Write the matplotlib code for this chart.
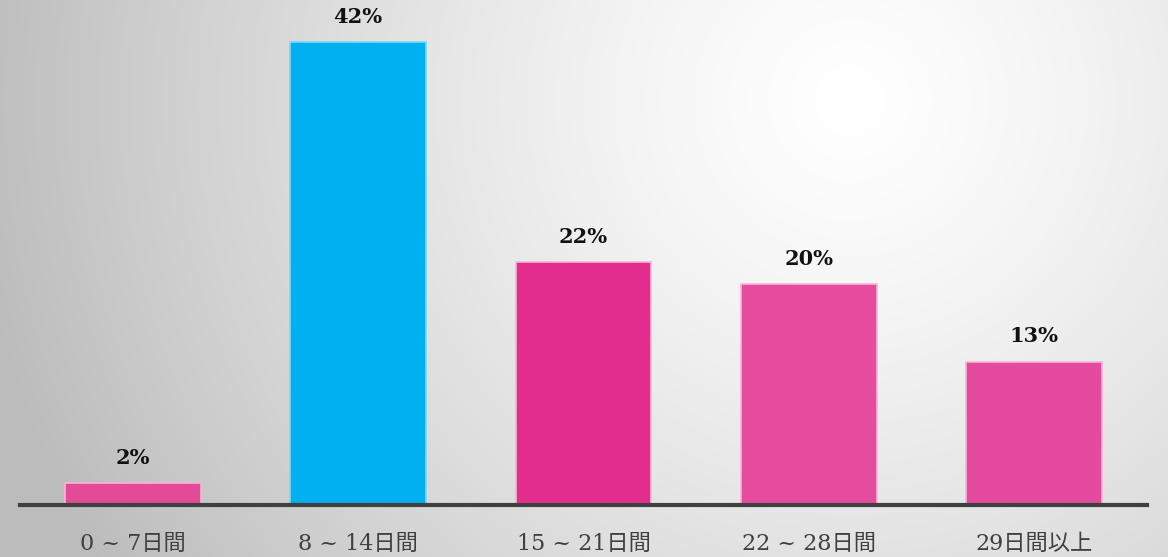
import numpy as np
import matplotlib
matplotlib.use("Agg")
import matplotlib.pyplot as plt

categories = ["0 ~ 7日間", "8 ~ 14日間", "15 ~ 21日間", "22 ~ 28日間", "29日間以上"]
values = [2, 42, 22, 20, 13]
labels = ["2%", "42%", "22%", "20%", "13%"]
colors = ["#E34A98", "#00B0F0", "#E22D8E", "#E64C9E", "#E44B9E"]

fig = plt.figure(figsize=(11.68, 5.57), dpi=100)

# radial gradient background
bg = fig.add_axes([0, 0, 1, 1], zorder=0)
W, H = 1168, 557
yy, xx = np.mgrid[0:H, 0:W]
cx, cy = 850, 100
d = np.sqrt((xx - cx) ** 2 + (yy - cy) ** 2)
t = np.clip(d / 880, 0, 1)
gray = 1.0 - 0.26 * t ** 1.3
img = np.dstack([gray, gray, gray])
bg.imshow(img, extent=[0, W, H, 0], aspect='auto', interpolation='bilinear')
bg.set_axis_off()

ax = fig.add_axes([20 / W, (H - 505) / H, (1147 - 20) / W, 505 / H], zorder=1)
ax.patch.set_alpha(0)
x = np.arange(len(values))
bars = ax.bar(x, values, width=0.603, color=colors, edgecolor="#F4B6D6", linewidth=1.2)
bars[1].set_edgecolor("#7FD6F7")
ax.set_xlim(-0.5, 4.5)
ax.set_ylim(0, 45.8)
for s in ["top", "right", "left"]:
    ax.spines[s].set_visible(False)
ax.spines["bottom"].set_color("#404040")
ax.spines["bottom"].set_linewidth(3)
ax.set_yticks([])
ax.set_xticks(x)
ax.set_xticklabels(categories, family=["DejaVu Serif", "Noto Sans CJK JP"],
                   fontsize=16, color="#404040")
ax.tick_params(axis="x", length=0, pad=20)
for xi, v, lab in zip(x, values, labels):
    ax.annotate(lab, (xi, v), xytext=(0, 11), textcoords="offset points",
                ha="center", va="bottom", fontsize=15, fontweight="bold",
                family="DejaVu Serif", color="#111111")

fig.savefig("out.png", dpi=100)
